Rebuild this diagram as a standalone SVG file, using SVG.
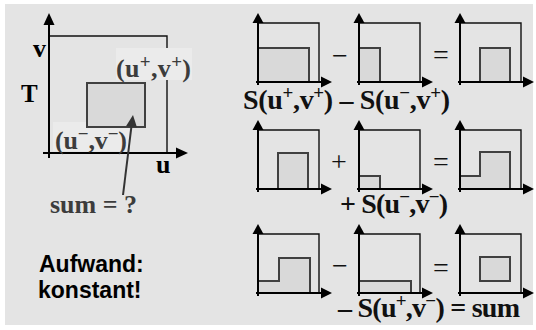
<svg xmlns="http://www.w3.org/2000/svg" width="536" height="330" viewBox="0 0 536 330">
<style>
.frame{fill:none;stroke:#111;stroke-width:1.4}
.axis{stroke:#000;stroke-width:2;fill:none}
.ah{fill:#000}
.shade{fill:#d9d9d9;stroke:#404040;stroke-width:2}
.lbl{font-family:"Liberation Serif","Times New Roman",serif;font-weight:bold;fill:#000}
.glbl{font-family:"Liberation Serif","Times New Roman",serif;font-weight:bold;fill:#3c3c3c;font-size:26px}
.op{font-family:"Liberation Serif","Times New Roman",serif;font-size:28px;fill:#111;text-anchor:middle}
.rl{font-family:"Liberation Serif","Times New Roman",serif;font-weight:bold;font-size:28px;fill:#111}
.sup{font-size:19px}
.sans{font-family:"Liberation Sans",Arial,sans-serif;font-weight:bold;font-size:23px;fill:#000}
</style>
<defs>
<g id="plot">
<path class="frame" d="M0,0 H61 V59"/>
<line class="axis" x1="0" y1="-1" x2="0" y2="62"/>
<line class="axis" x1="-2" y1="59" x2="64" y2="59"/>
<polygon class="ah" points="0,-10 -5.5,0 5.5,0"/>
<polygon class="ah" points="74,59 63,53.5 63,64.5"/>
</g>
</defs>
<rect x="5" y="4" width="528" height="321" fill="#e4e4e4"/>

<g id="main-plot">
<path class="frame" d="M49,36 H167 V153"/>
<rect x="116" y="48" width="76" height="32" fill="#ebebeb"/>
<rect x="53" y="122" width="76" height="29" fill="#ebebeb"/>
<rect class="shade" x="87" y="83" width="58" height="44" stroke-width="2.5" stroke="#3a3a3a"/>
<line class="axis" x1="49" y1="24" x2="49" y2="158"/>
<line class="axis" x1="43" y1="153" x2="178" y2="153"/>
<polygon class="ah" points="49,13 43.5,25 54.5,25"/>
<polygon class="ah" points="188,153 176,147.5 176,158.5"/>
<text class="lbl" x="33" y="57" font-size="26">v</text>
<text class="lbl" x="21" y="102" font-size="25">T</text>
<text class="lbl" x="156" y="173" font-size="26">u</text>
<text class="glbl" x="116" y="77" textLength="75">(u<tspan class="sup" dy="-9">+</tspan><tspan dy="9">,v</tspan><tspan class="sup" dy="-9">+</tspan><tspan dy="9">)</tspan></text>
<text class="glbl" x="55" y="149" textLength="72">(u<tspan class="sup" dy="-9">−</tspan><tspan dy="9">,v</tspan><tspan class="sup" dy="-9">−</tspan><tspan dy="9">)</tspan></text>
</g>

<g id="sum-label">
<text class="glbl" x="50" y="213">sum = ?</text>
</g>

<g id="connectors">
<line x1="123" y1="195" x2="131.5" y2="126" stroke="#333" stroke-width="2"/>
<polygon points="133,115 137,127.6 126,126.2" fill="#333"/>
</g>

<g id="aufwand">
<text class="sans" x="39" y="272">Aufwand:</text>
<text class="sans" x="38" y="298">konstant!</text>
</g>

<g id="row1">
<use href="#plot" x="258" y="23"/>
<rect class="shade" x="258" y="48" width="51" height="34"/>
<use href="#plot" x="359" y="23"/>
<rect class="shade" x="359" y="48" width="21" height="34"/>
<use href="#plot" x="460" y="23"/>
<rect class="shade" x="480" y="48" width="30" height="34"/>
<line class="axis" x1="258" y1="22" x2="258" y2="85"/>
<line class="axis" x1="256" y1="82" x2="322" y2="82"/>
<line class="axis" x1="359" y1="22" x2="359" y2="85"/>
<line class="axis" x1="357" y1="82" x2="423" y2="82"/>
<line class="axis" x1="460" y1="22" x2="460" y2="85"/>
<line class="axis" x1="458" y1="82" x2="524" y2="82"/>
<text class="op" x="340" y="65">−</text>
<text class="op" x="441" y="64">=</text>
<text class="rl" x="243" y="109" textLength="207">S(u<tspan class="sup" dy="-10">+</tspan><tspan dy="10">,v</tspan><tspan class="sup" dy="-10">+</tspan><tspan dy="10">) – S(u</tspan><tspan class="sup" dy="-10">−</tspan><tspan dy="10">,v</tspan><tspan class="sup" dy="-10">+</tspan><tspan dy="10">)</tspan></text>
</g>

<g id="row2">
<use href="#plot" x="258" y="130"/>
<rect class="shade" x="278" y="153" width="30" height="36"/>
<use href="#plot" x="359" y="130"/>
<rect class="shade" x="359" y="176" width="21" height="13"/>
<use href="#plot" x="460" y="130"/>
<polygon class="shade" points="460,189 460,176 480,176 480,152 510,152 510,189"/>
<line class="axis" x1="258" y1="129" x2="258" y2="192"/>
<line class="axis" x1="256" y1="189" x2="322" y2="189"/>
<line class="axis" x1="359" y1="129" x2="359" y2="192"/>
<line class="axis" x1="357" y1="189" x2="423" y2="189"/>
<line class="axis" x1="460" y1="129" x2="460" y2="192"/>
<line class="axis" x1="458" y1="189" x2="524" y2="189"/>
<text class="op" x="339" y="171">+</text>
<text class="op" x="441" y="171">=</text>
<text class="rl" x="340" y="213" textLength="108">+ S(u<tspan class="sup" dy="-10">−</tspan><tspan dy="10">,v</tspan><tspan class="sup" dy="-10">−</tspan><tspan dy="10">)</tspan></text>
</g>

<g id="row3">
<use href="#plot" x="258" y="234"/>
<polygon class="shade" points="258,293 258,281 279,281 279,258 310,258 310,293"/>
<use href="#plot" x="359" y="234"/>
<rect class="shade" x="359" y="281" width="52" height="12"/>
<use href="#plot" x="460" y="234"/>
<rect class="shade" x="480" y="257" width="30" height="24"/>
<line class="axis" x1="258" y1="233" x2="258" y2="296"/>
<line class="axis" x1="256" y1="293" x2="322" y2="293"/>
<line class="axis" x1="359" y1="233" x2="359" y2="296"/>
<line class="axis" x1="357" y1="293" x2="423" y2="293"/>
<line class="axis" x1="460" y1="233" x2="460" y2="296"/>
<line class="axis" x1="458" y1="293" x2="524" y2="293"/>
<text class="op" x="340" y="275">−</text>
<text class="op" x="441" y="277">=</text>
<text class="rl" x="338" y="317" textLength="182">– S(u<tspan class="sup" dy="-10">+</tspan><tspan dy="10">,v</tspan><tspan class="sup" dy="-10">−</tspan><tspan dy="10">) = sum</tspan></text>
</g>
</svg>
